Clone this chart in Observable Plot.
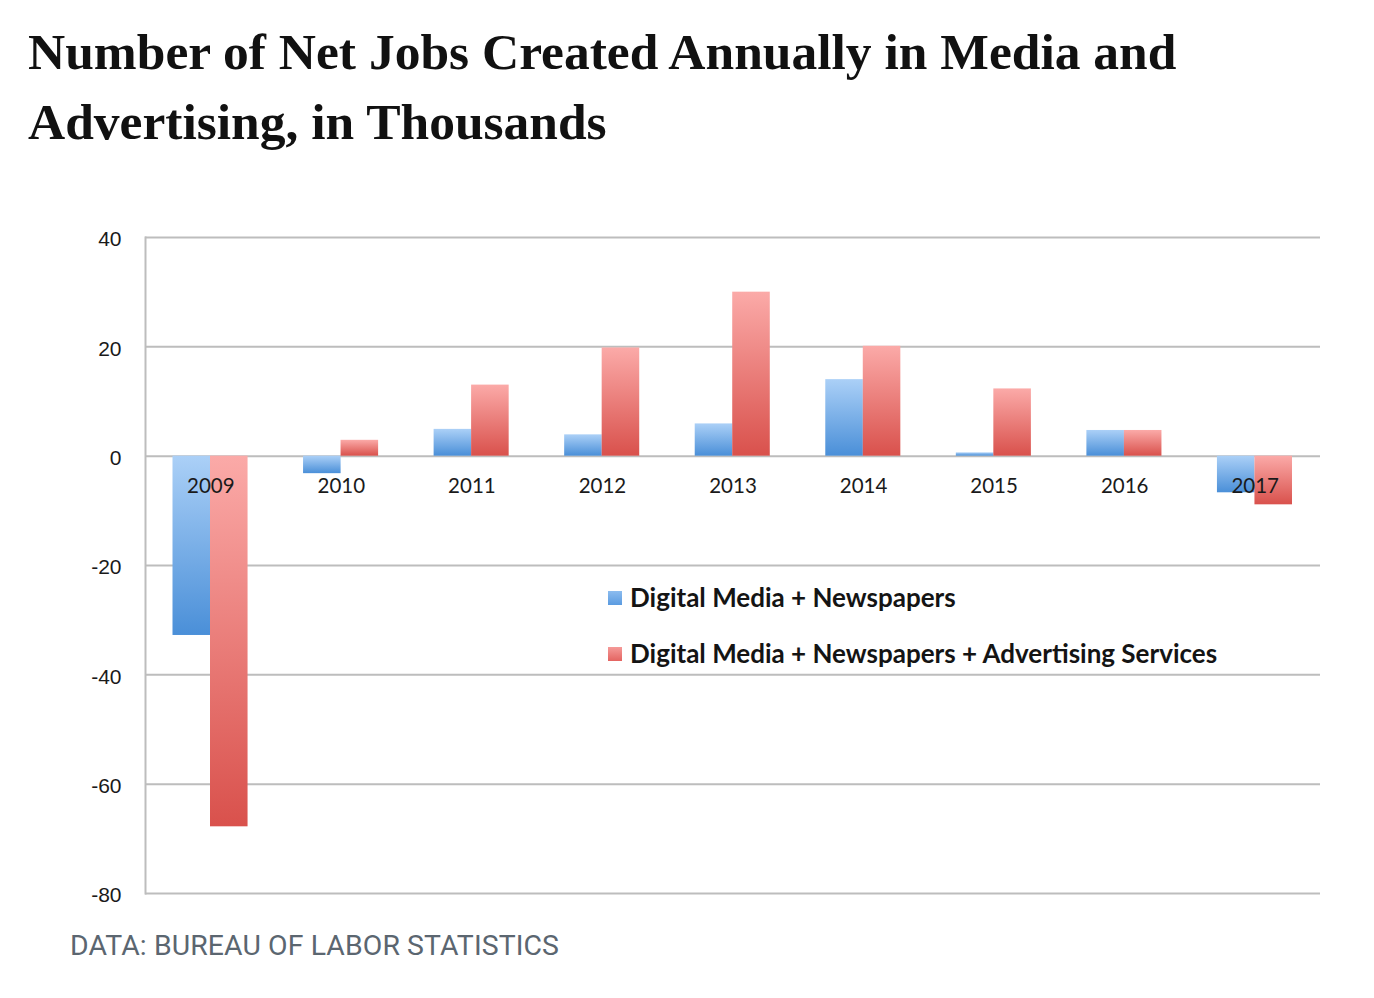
<!DOCTYPE html>
<html>
<head>
<meta charset="utf-8">
<script src="https://cdn.jsdelivr.net/npm/d3@7"></script>
<script src="https://cdn.jsdelivr.net/npm/@observablehq/plot@0.6"></script>
<style>
  html, body { margin: 0; padding: 0; background: #fff; }
  body { width: 1374px; height: 998px; position: relative; overflow: hidden; }
  #title { position: absolute; left: 28px; top: 17px; width: 1340px;
    font-family: "Liberation Serif", serif; font-weight: bold; font-size: 51.5px;
    line-height: 70px; color: #111; white-space: nowrap; }
  #chart { position: absolute; left: 0; top: 200px; }
  #legend { position: absolute; left: 608px; top: 581px;
    font-family: Lato, "Open Sans", sans-serif; font-weight: bold; font-size: 26px; color: #141414; }
  #legend .row { height: 56px; display: flex; align-items: flex-start; }
  #legend .sw { width: 14px; height: 14px; margin-top: 10px; margin-right: 8px; }
  #caption { position: absolute; left: 70px; top: 929px;
    font-family: Roboto, sans-serif; font-size: 28.4px; color: #5b6670; letter-spacing: 0.1px; }
</style>
</head>
<body>
<div id="title">Number of Net Jobs Created Annually in Media and<br>Advertising, in Thousands</div>
<div id="chart"></div>
<div id="legend"></div>
<div id="caption">DATA: BUREAU OF LABOR STATISTICS</div>
<script>
const years = ["2009", "2010", "2011", "2012", "2013", "2014", "2015", "2016", "2017"];
const digitalNews = [-32.8, -3.2, 4.9, 3.9, 5.9, 14.0, 0.6, 4.7, -6.7];
const digitalNewsAds = [-67.8, 2.9, 13.0, 19.8, 30.0, 20.1, 12.3, 4.7, -8.9];
const yTicks = [-80, -60, -40, -20, 0, 20, 40];
const seriesNames = ["Digital Media + Newspapers", "Digital Media + Newspapers + Advertising Services"];
const seriesColors = ["#5b9be0", "#e46461"];

const blueData = years.map((y, i) => ({year: y, value: digitalNews[i]}));
const redData = years.map((y, i) => ({year: y, value: digitalNewsAds[i]}));

const shadow = "drop-shadow(1px 1px 1.2px rgba(0,0,0,0.25))";

const chart = Plot.plot({
  width: 1374,
  height: 720,
  marginTop: 37,
  marginBottom: 27,
  marginLeft: 145,
  marginRight: 54,
  x: {type: "band", domain: years, padding: 0, round: false, axis: null},
  y: {domain: [-80, 40], ticks: yTicks, axis: null},
  marks: [
    Plot.ruleY(yTicks, {stroke: "#bdbdbd", strokeWidth: 2}),
    Plot.frame({anchor: "left", stroke: "#bdbdbd", strokeWidth: 2}),
    Plot.barY(blueData, {x: "year", y: "value", fill: "url(#gradBlue)", insetLeft: 27.5, insetRight: 65.5, style: {filter: shadow}}),
    Plot.barY(redData, {x: "year", y: "value", fill: "url(#gradRed)", insetLeft: 65, insetRight: 28, style: {filter: shadow}}),
    Plot.text(years, {x: d => d, y: () => 0, dy: 30, fontSize: 20.5, fill: "#1a1a1a", fontFamily: "Lato, 'Open Sans', sans-serif"}),
    Plot.axisY({ticks: yTicks, tickSize: 0, tickPadding: 24, dy: 2, fontSize: 21, fill: "#1a1a1a", label: null, fontFamily: "'Liberation Sans', Arial, sans-serif", tickFormat: d => String(d)})
  ]
});

// gradients
const ns = "http://www.w3.org/2000/svg";
const defs = document.createElementNS(ns, "defs");
function grad(id, top, bottom) {
  const g = document.createElementNS(ns, "linearGradient");
  g.setAttribute("id", id);
  g.setAttribute("x1", "0"); g.setAttribute("y1", "0");
  g.setAttribute("x2", "0"); g.setAttribute("y2", "1");
  [[0, top], [1, bottom]].forEach(([o, c]) => {
    const s = document.createElementNS(ns, "stop");
    s.setAttribute("offset", o);
    s.setAttribute("stop-color", c);
    g.appendChild(s);
  });
  defs.appendChild(g);
}
grad("gradBlue", "#abd0f7", "#4a8fd8");
grad("gradRed", "#fbaaa8", "#d9514c");
chart.insertBefore(defs, chart.firstChild);
document.getElementById("chart").appendChild(chart);

// legend
const legend = document.getElementById("legend");
seriesNames.forEach((name, i) => {
  const row = document.createElement("div");
  row.className = "row";
  const sw = document.createElement("div");
  sw.className = "sw";
  sw.style.background = `linear-gradient(${i ? "#f59a98" : "#8cbcef"}, ${seriesColors[i]})`;
  const label = document.createElement("span");
  label.textContent = name;
  row.appendChild(sw);
  row.appendChild(label);
  legend.appendChild(row);
});
</script>
</body>
</html>
